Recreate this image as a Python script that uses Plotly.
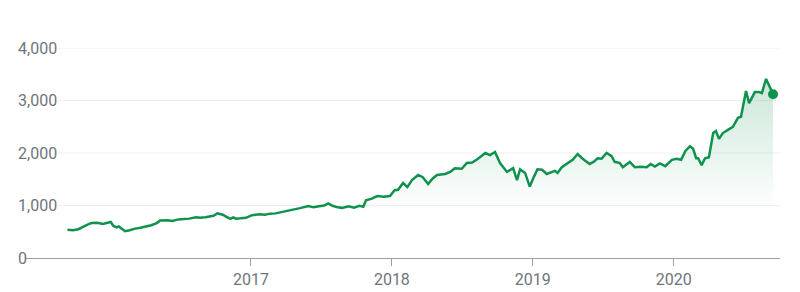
import plotly.graph_objects as go

dates = [
    "2015-09-14", "2015-09-28", "2015-10-12", "2015-10-26", "2015-11-09", "2015-11-16",
    "2015-11-30", "2015-12-14", "2015-12-28", "2016-01-04", "2016-01-11", "2016-01-19",
    "2016-01-25", "2016-02-01", "2016-02-10", "2016-02-22", "2016-03-07", "2016-03-21",
    "2016-04-04", "2016-04-18", "2016-05-02", "2016-05-11", "2016-05-30", "2016-06-12",
    "2016-06-27", "2016-07-11", "2016-07-25", "2016-08-12", "2016-08-22", "2016-09-05",
    "2016-09-26", "2016-10-06", "2016-10-20", "2016-10-31", "2016-11-09", "2016-11-16",
    "2016-11-23", "2016-12-05", "2016-12-19", "2017-01-04", "2017-01-23", "2017-02-06",
    "2017-02-20", "2017-03-06", "2017-03-26", "2017-04-10", "2017-04-24", "2017-05-08",
    "2017-05-30", "2017-06-12", "2017-06-26", "2017-07-10", "2017-07-20", "2017-07-31",
    "2017-08-14", "2017-08-25", "2017-09-11", "2017-09-25", "2017-10-09", "2017-10-19",
    "2017-10-26", "2017-11-10", "2017-11-24", "2017-12-11", "2017-12-27", "2018-01-08",
    "2018-01-17", "2018-01-30", "2018-02-10", "2018-02-22", "2018-03-10", "2018-03-22",
    "2018-04-05", "2018-04-16", "2018-04-28", "2018-05-19", "2018-06-01", "2018-06-13",
    "2018-07-01", "2018-07-14", "2018-07-28", "2018-08-12", "2018-08-31", "2018-09-12",
    "2018-09-25", "2018-10-08", "2018-10-26", "2018-11-11", "2018-11-21", "2018-11-29",
    "2018-12-12", "2018-12-24", "2019-01-04", "2019-01-13", "2019-01-25", "2019-02-06",
    "2019-02-27", "2019-03-06", "2019-03-17", "2019-04-07", "2019-04-14", "2019-04-27",
    "2019-05-10", "2019-05-28", "2019-06-07", "2019-06-18", "2019-06-28", "2019-07-11",
    "2019-07-24", "2019-08-01", "2019-08-14", "2019-08-22", "2019-09-09", "2019-09-22",
    "2019-10-07", "2019-10-23", "2019-11-02", "2019-11-13", "2019-11-26", "2019-12-10",
    "2019-12-27", "2020-01-08", "2020-01-20", "2020-01-31", "2020-02-12", "2020-02-20",
    "2020-02-28", "2020-03-04", "2020-03-13", "2020-03-22", "2020-04-01", "2020-04-12",
    "2020-04-19", "2020-04-27", "2020-05-07", "2020-05-20", "2020-06-02", "2020-06-15",
    "2020-06-23", "2020-07-06", "2020-07-14", "2020-07-29", "2020-08-09", "2020-08-16",
    "2020-08-27", "2020-09-14",
]

prices = [
    540, 530, 548, 605, 650, 665,
    672, 648, 675, 686, 610, 585,
    600, 565, 510, 530, 560, 575,
    595, 625, 665, 715, 720, 705,
    735, 740, 750, 775, 765, 775,
    805, 850, 825, 780, 745, 775,
    750, 755, 765, 815, 835, 825,
    845, 850, 880, 900, 920, 950,
    990, 965, 985, 1000, 1040, 995,
    965, 955, 985, 960, 995, 975,
    1100, 1130, 1180, 1165, 1180, 1290,
    1300, 1430, 1350, 1485, 1580, 1540,
    1410, 1510, 1580, 1600, 1640, 1710,
    1700, 1810, 1820, 1890, 2000, 1960,
    2020, 1810, 1640, 1710, 1485, 1690,
    1620, 1360, 1550, 1690, 1680, 1600,
    1660, 1620, 1730, 1830, 1870, 1980,
    1890, 1790, 1830, 1900, 1890, 2000,
    1940, 1830, 1810, 1730, 1830, 1730,
    1740, 1730, 1790, 1740, 1800, 1750,
    1870, 1890, 1870, 2040, 2130, 2080,
    1900, 1900, 1770, 1900, 1920, 2380,
    2420, 2270, 2380, 2440, 2500, 2670,
    2690, 3180, 2950, 3160, 3160, 3140,
    3410, 3120,
]

y_ticks = [0, 1000, 2000, 3000, 4000]
y_tick_labels = ["0", "1,000", "2,000", "3,000", "4,000"]
x_ticks = ["2017-01-01", "2018-01-01", "2019-01-01", "2020-01-01"]
x_tick_labels = ["2017", "2018", "2019", "2020"]

GREEN = "#10924f"
LABEL = "#70757a"
FONT = "Roboto"

fig = go.Figure()
fig.add_trace(go.Scatter(
    x=dates, y=prices, mode="lines",
    line=dict(color=GREEN, width=2.5),
    fill="tozeroy",
    fillgradient=dict(
        type="vertical",
        start=900, stop=3450,
        colorscale=[[0, "rgba(16,146,79,0)"], [1, "rgba(16,146,79,0.22)"]],
    ),
    hoverinfo="skip",
))
fig.add_trace(go.Scatter(
    x=[dates[-1]], y=[prices[-1]], mode="markers",
    marker=dict(color=GREEN, size=10),
    hoverinfo="skip",
))

W, H = 800, 292
ml, mr, mt, mb = 25, 20, 48, 34
pw = W - ml - mr

shapes = []
annotations = []
for v, t in zip(y_ticks, y_tick_labels):
    if v != 0:
        shapes.append(dict(
            type="line", xref="paper", yref="y",
            x0=(58 - ml) / pw, x1=1, y0=v, y1=v,
            line=dict(color="#efefef", width=1), layer="below",
        ))
    annotations.append(dict(
        xref="paper", yref="y", x=(16 - ml) / pw, y=v,
        xanchor="left", yanchor="middle", text=t, showarrow=False,
        font=dict(family=FONT, size=16, color=LABEL),
    ))

fig.update_layout(
    width=W, height=H,
    margin=dict(l=ml, r=mr, t=mt, b=mb),
    paper_bgcolor="white", plot_bgcolor="white",
    showlegend=False,
    shapes=shapes, annotations=annotations,
    xaxis=dict(
        range=["2015-05-27", "2020-10-02"],
        tickvals=x_ticks, ticktext=x_tick_labels,
        showgrid=False, zeroline=False, automargin=False,
        showline=True, linecolor="#9e9e9e", linewidth=1,
        ticks="outside", ticklen=7, tickcolor="#9e9e9e", tickwidth=1,
        tickfont=dict(family=FONT, size=16, color=LABEL),
    ),
    yaxis=dict(
        range=[0, 4000], showgrid=False, zeroline=False, automargin=False,
        showticklabels=False, showline=False, fixedrange=True,
    ),
)

fig.write_html("out.html")
